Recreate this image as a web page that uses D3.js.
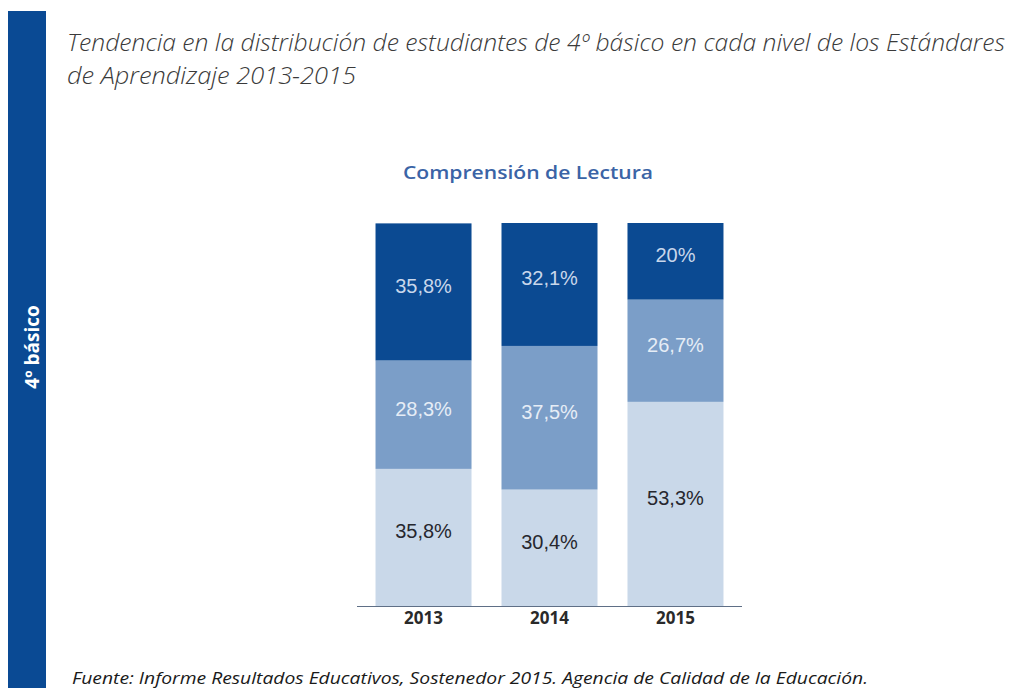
<!DOCTYPE html>
<html><head><meta charset="utf-8">
<script src="https://cdn.jsdelivr.net/npm/d3@7"></script>
<style>body{margin:0;background:#fff;}svg{display:block;}</style>
</head><body>
<svg id="c" width="1015" height="688"></svg>
<script>
const years = ["2013", "2014", "2015"];
const insuficiente = [35.8, 30.4, 53.3];
const elemental = [28.3, 37.5, 26.7];
const adecuado = [35.8, 32.1, 20];
const levels = ["insuficiente", "elemental", "adecuado"];
const fmt = v => String(v).replace(".", ",") + "%";

const svg = d3.select("#c");
const colors = {insuficiente: "#c9d8e9", elemental: "#7b9ec8", adecuado: "#0b4a92"};
const textColors = {insuficiente: "#26272e", elemental: "#e6edf6", adecuado: "#c9d7eb"};

// side band
svg.append("rect").attr("x", 8).attr("y", 11).attr("width", 38).attr("height", 677).attr("fill", "#0a4a94");
svg.append("text").attr("transform", "translate(39,347) rotate(-90)")
  .attr("text-anchor", "middle").attr("fill", "#fff")
  .style("font-family", "'Open Sans', sans-serif").style("font-weight", "700").style("font-size", "19px")
  .text("4º básico");

// title
const tfont = "'Open Sans', sans-serif";
svg.append("text").attr("x", 67).attr("y", 51).attr("fill", "#3a3a3a")
  .style("font-family", tfont).style("font-style", "italic").style("font-weight", "300").style("font-size", "24px")
  .attr("textLength", 938).attr("lengthAdjust", "spacingAndGlyphs")
  .text("Tendencia en la distribución de estudiantes de 4º básico en cada nivel de los Estándares");
svg.append("text").attr("x", 67).attr("y", 84).attr("fill", "#3a3a3a")
  .style("font-family", tfont).style("font-style", "italic").style("font-weight", "300").style("font-size", "24px")
  .attr("textLength", 289).attr("lengthAdjust", "spacingAndGlyphs")
  .text("de Aprendizaje 2013-2015");

// subtitle
svg.append("text").attr("x", 528).attr("y", 179).attr("text-anchor", "middle").attr("fill", "#3b64a6")
  .style("font-family", "'Open Sans', sans-serif").style("font-weight", "600").style("font-size", "18px")
  .attr("textLength", 250).attr("lengthAdjust", "spacingAndGlyphs")
  .text("Comprensión de Lectura");

// scales
const x = d3.scaleBand().domain(years).range([357, 742]).paddingInner(0.238).paddingOuter(0.147);
const y = d3.scaleLinear().domain([0, 100]).range([606, 223]);

const table = years.map((yr, i) => ({year: yr, insuficiente: insuficiente[i], elemental: elemental[i], adecuado: adecuado[i]}));
const stack = d3.stack().keys(levels)(table);

const g = svg.append("g");
stack.forEach(layer => {
  const key = layer.key;
  g.selectAll(null).data(layer).join("rect")
    .attr("x", d => x(d.data.year)).attr("width", x.bandwidth())
    .attr("y", d => y(Math.min(d[1], 100))).attr("height", d => y(d[0]) - y(Math.min(d[1], 100)))
    .attr("fill", colors[key]);
  g.selectAll(null).data(layer).join("text")
    .attr("x", d => x(d.data.year) + x.bandwidth() / 2)
    .attr("y", d => (y(d[0]) + y(Math.min(d[1], 100))) / 2 + 1)
    .attr("text-anchor", "middle").attr("fill", textColors[key])
    .style("font-family", "'Liberation Sans', Arial, sans-serif").style("font-size", "20px")
    .text(d => fmt(d.data[key]));
});

// axis
const ax = svg.append("g").attr("transform", "translate(0,606)")
  .call(d3.axisBottom(x).tickSize(0).tickPadding(6));
ax.select(".domain").attr("stroke", "#5f6f86").attr("stroke-width", 1.2).attr("d", "M357,0.5H742");
ax.selectAll("text").attr("fill", "#2a2a2a")
  .style("font-family", "'Open Sans', sans-serif").style("font-weight", "700").style("font-size", "17px");

// source
svg.append("text").attr("x", 72).attr("y", 684).attr("fill", "#1a1a1a")
  .style("font-family", "'Open Sans', sans-serif").style("font-style", "italic").style("font-size", "17px")
  .attr("textLength", 796).attr("lengthAdjust", "spacingAndGlyphs")
  .text("Fuente: Informe Resultados Educativos, Sostenedor 2015. Agencia de Calidad de la Educación.");
</script>
</body></html>
